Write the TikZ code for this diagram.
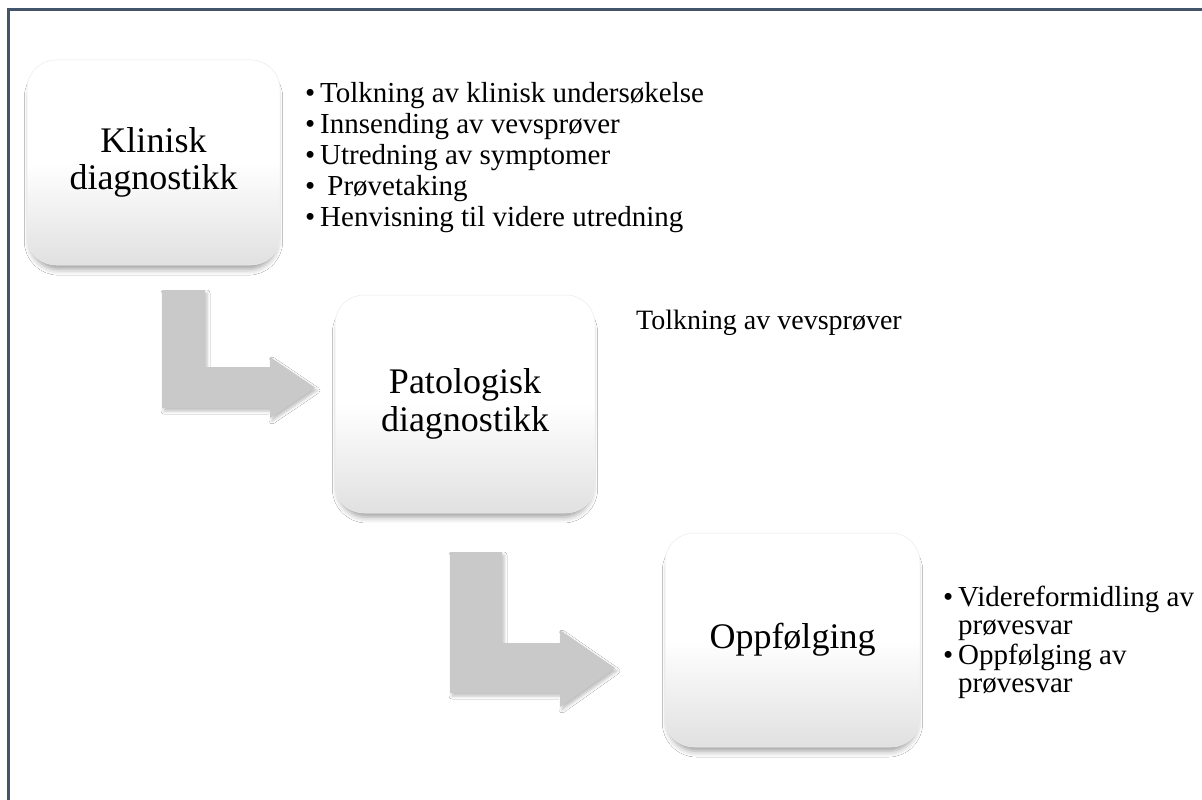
\documentclass[tikz,border=0pt]{standalone}
\usepackage{fontspec}
\setmainfont{Liberation Serif}
\usetikzlibrary{shadows.blur}
\definecolor{frameblue}{HTML}{44546A}
\definecolor{arrowgray}{HTML}{C9C9C9}
\newcommand\blt{\makebox[15pt][l]{•}}
\begin{document}
\begin{tikzpicture}[x=1pt,y=-1pt,
  stepbox/.style={rounded corners=29pt, draw=black!8, line width=0.5pt,
    top color=white, bottom color=black!12, middle color=white,
    blur shadow={shadow xshift=0pt, shadow yshift=-7pt, shadow scale=0.975,
      shadow blur radius=6pt, shadow opacity=38},
    align=center, inner sep=0pt, font=\fontsize{36}{37.5}\selectfont},
  bendarrow/.style={fill=arrowgray,
    blur shadow={shadow xshift=2pt, shadow yshift=-3pt, shadow blur radius=3pt, shadow opacity=25}},
  itemline/.style={anchor=base west, inner sep=0pt, font=\fontsize{29}{31}\selectfont},
  note/.style={anchor=base west, inner sep=0pt, font=\fontsize{28}{30}\selectfont}]
\useasboundingbox (0,0) rectangle (1202,800);
\fill[white] (0,0) rectangle (1202,800);
% frame
\draw[frameblue, line width=2.5pt] (8.5,800) -- (8.5,9.5) -- (1202,9.5);

% bent arrows between the steps
\fill[bendarrow] (162,290) -- (205,290) -- (205,367) -- (270,367) -- (270,357)
  -- (315,387.5) -- (270,418) -- (270,408) -- (162,408) -- cycle;
\fill[bendarrow] (450,552) -- (502,552) -- (502,643) -- (560,643) -- (560,630)
  -- (615,668) -- (560,707) -- (560,693) -- (450,693) -- cycle;

% steps
\node[stepbox, minimum width=253pt, minimum height=205pt] (k) at (153.5,162.5) {Klinisk\\diagnostikk};
\node[stepbox, minimum width=260pt, minimum height=218pt] (p) at (465,404) {Patologisk\\diagnostikk};
\node[stepbox, minimum width=255pt, minimum height=214pt] (o) at (792.5,640) {Oppfølging};

% details of step 1
\node[itemline] (k1) at (305,102.5) {\blt Tolkning av klinisk undersøkelse};
\node[itemline] (k2) at (305,133.5) {\blt Innsending av vevsprøver};
\node[itemline] (k3) at (305,164.5) {\blt Utredning av symptomer};
\node[itemline] (k4) at (305,195.5) {\blt\ Prøvetaking};
\node[itemline] (k5) at (305,226.5) {\blt Henvisning til videre utredning};

% details of step 2
\node[note] (p1) at (636,329) {Tolkning av vevsprøver};

% details of step 3
\node[itemline] (o1) at (943,606) {\blt Videreformidling av};
\node[itemline] (o2) at (958,634) {prøvesvar};
\node[itemline] (o3) at (943,664) {\blt Oppfølging av};
\node[itemline] (o4) at (958,692) {prøvesvar};
\end{tikzpicture}
\end{document}
